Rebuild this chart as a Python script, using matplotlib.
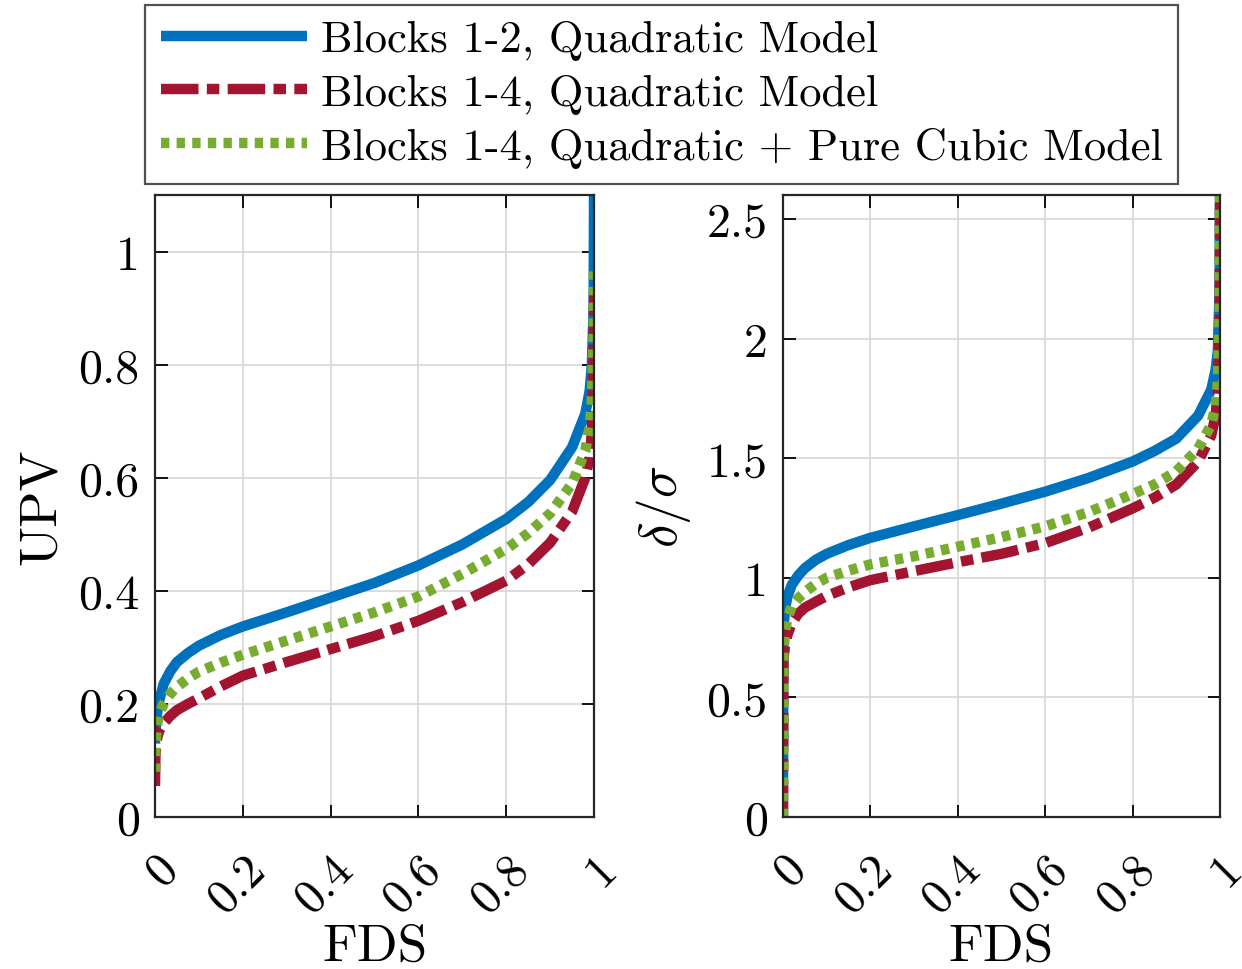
import matplotlib
matplotlib.use("Agg")
import matplotlib.pyplot as plt
from matplotlib.transforms import ScaledTranslation

plt.rcParams['font.family'] = ['cmr10', 'DejaVu Serif']
plt.rcParams['mathtext.fontset'] = 'cm'
plt.rcParams['axes.formatter.use_mathtext'] = True

# fraction of design space (shared x grid)
fds = [0.0, 0.001, 0.005, 0.01, 0.02, 0.035, 0.05, 0.075, 0.1, 0.15, 0.2, 0.3, 0.4,
       0.5, 0.6, 0.7, 0.8, 0.85, 0.9, 0.95, 0.98, 0.99, 0.995, 0.999, 1.0]

# UPV (left panel)
upv_b12_quad = [0.13, 0.15, 0.185, 0.207, 0.236, 0.258, 0.274, 0.29, 0.303, 0.322, 0.337,
                0.362, 0.388, 0.414, 0.445, 0.482, 0.527, 0.557, 0.596, 0.654, 0.713,
                0.754, 0.80, 0.90, 1.12]
upv_b14_quad = [0.055, 0.11, 0.14, 0.153, 0.166, 0.179, 0.189, 0.20, 0.21, 0.231, 0.25,
                0.274, 0.297, 0.32, 0.347, 0.38, 0.418, 0.447, 0.485, 0.54, 0.60,
                0.636, 0.68, 0.80, 0.928]
upv_b14_cubic = [0.08, 0.13, 0.165, 0.183, 0.201, 0.218, 0.23, 0.245, 0.257, 0.273, 0.287,
                 0.312, 0.337, 0.362, 0.39, 0.43, 0.474, 0.502, 0.537, 0.59, 0.648,
                 0.69, 0.74, 0.85, 0.966]

# delta/sigma (right panel)
ds_b12_quad = [0.0, 0.79, 0.87, 0.92, 0.97, 1.01, 1.04, 1.075, 1.10, 1.137, 1.167,
               1.215, 1.262, 1.31, 1.36, 1.418, 1.486, 1.53, 1.582, 1.678, 1.787,
               1.87, 1.95, 2.2, 2.6]
ds_b14_quad = [0.0, 0.66, 0.72, 0.76, 0.81, 0.85, 0.875, 0.90, 0.924, 0.96, 0.99,
               1.028, 1.065, 1.10, 1.145, 1.21, 1.29, 1.335, 1.39, 1.486, 1.595,
               1.68, 1.78, 2.05, 2.6]
ds_b14_cubic = [0.0, 0.68, 0.78, 0.83, 0.88, 0.915, 0.94, 0.975, 1.0, 1.03, 1.056,
                1.09, 1.13, 1.17, 1.215, 1.275, 1.35, 1.39, 1.445, 1.54, 1.64,
                1.72, 1.82, 2.1, 2.6]

labels = ['Blocks 1-2, Quadratic Model',
          'Blocks 1-4, Quadratic Model',
          'Blocks 1-4, Quadratic + Pure Cubic Model']
colors = ['#0072BD', '#A2142F', '#77AC30']
xticks = [0, 0.2, 0.4, 0.6, 0.8, 1]
xticklabels = ['0', '0.2', '0.4', '0.6', '0.8', '1']

fig = plt.figure(figsize=(12.42, 9.70), dpi=100)
ax1 = fig.add_axes([0.1248, 0.1567, 0.3535, 0.6412])
ax2 = fig.add_axes([0.6304, 0.1567, 0.3519, 0.6412])

lw = 7.5


def draw(ax, series, ylim, yticks, yticklabels, ylabel):
    handles = []
    styles = [dict(linestyle='-'),
              dict(dashes=[3.6, 0.8, 1.2, 0.8]),
              dict(dashes=[0.8, 0.7])]
    for y, c, st, lab in zip(series, colors, styles, labels):
        h, = ax.plot(fds, y, color=c, lw=lw, label=lab, solid_capstyle='butt',
                     dash_capstyle='butt', solid_joinstyle='round', **st)
        handles.append(h)
    ax.set_xlim(0, 1)
    ax.set_ylim(*ylim)
    ax.set_xticks(xticks)
    ax.set_xticklabels(xticklabels, rotation=45, ha='right', va='top',
                       rotation_mode='anchor')
    shift = ScaledTranslation(0.21, 0, fig.dpi_scale_trans)
    for t in ax.get_xticklabels():
        t.set_transform(t.get_transform() + shift)
    ax.set_yticks(yticks)
    ax.set_yticklabels(yticklabels)
    ax.tick_params(direction='in', length=9, width=1.3, labelsize=34.5,
                   top=True, right=True)
    ax.tick_params(axis='x', pad=21)
    ax.tick_params(axis='y', pad=11)
    ax.grid(True, color='#d9d9d9', lw=1.3)
    ax.set_axisbelow(True)
    for sp in ax.spines.values():
        sp.set_linewidth(1.6)
        sp.set_color('#262626')
    ax.set_xlabel('FDS', fontsize=38.5, va='baseline')
    ax.xaxis.set_label_coords(0.5, -0.229)
    ax.set_ylabel(ylabel, fontsize=38.5, labelpad=10)
    return handles


handles = draw(ax1, [upv_b12_quad, upv_b14_quad, upv_b14_cubic], (0, 1.1),
               [0, 0.2, 0.4, 0.6, 0.8, 1], ['0', '0.2', '0.4', '0.6', '0.8', '1'], 'UPV')
draw(ax2, [ds_b12_quad, ds_b14_quad, ds_b14_cubic], (0, 2.6),
     [0, 0.5, 1, 1.5, 2, 2.5], ['0', '0.5', '1', '1.5', '2', '2.5'], r'$\delta/\sigma$')

leg = fig.legend(handles=handles, loc='center', bbox_to_anchor=(0.5326, 0.902),
                 fontsize=32, frameon=True, fancybox=False, edgecolor='#262626',
                 handlelength=3.3, handletextpad=0.3, labelspacing=0.3,
                 borderpad=0.35, borderaxespad=0)
leg.get_frame().set_linewidth(1.6)

fig.savefig('out.png', dpi=100, facecolor='white')
